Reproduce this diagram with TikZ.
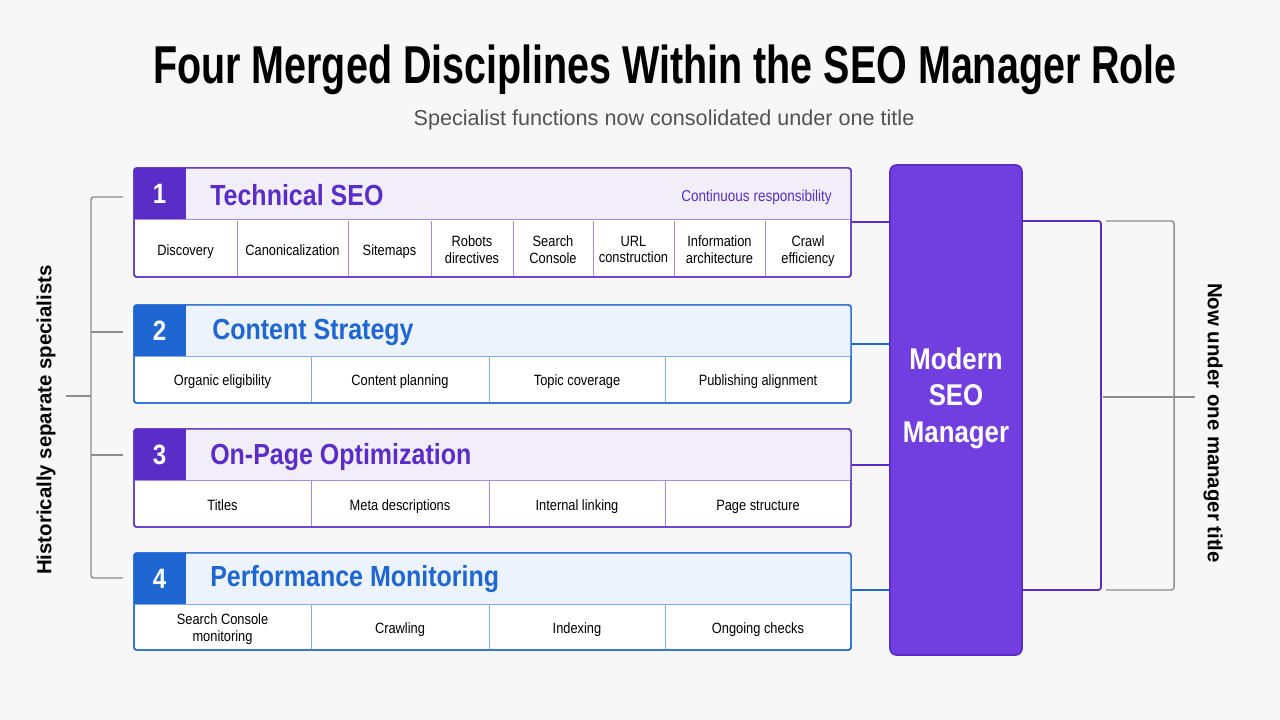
\documentclass[tikz,border=0pt]{standalone}
\usepackage{fontspec}
\setmainfont{Liberation Sans}
\newfontfamily\condfont[FakeStretch=0.86]{Liberation Sans}
\newfontfamily\titlefont[FakeStretch=0.74]{Liberation Sans}
\usepackage{xcolor}
\usepackage{tikz}
\usetikzlibrary{positioning}

\definecolor{purp}{HTML}{5B2DC8}
\definecolor{blu}{HTML}{1E66D2}
\definecolor{lav}{HTML}{F1EEFA}
\definecolor{sky}{HTML}{EDF3FC}
\definecolor{mgrfill}{HTML}{713FE0}
\definecolor{bgcol}{HTML}{F7F7F8}
\definecolor{brace}{HTML}{8E8E8E}

\begin{document}
\begin{tikzpicture}[
    x=0.75pt, y=-0.75pt,
    band/.style={draw=#1, line width=1.1pt, rounded corners=2pt, minimum width=537.75pt, inner sep=0pt},
    head/.style={fill=#1, minimum width=537.75pt, minimum height=39pt, anchor=north west, inner sep=0pt},
    badge/.style={fill=#1, text=white, font=\condfont\bfseries\fontsize{21}{24}\selectfont, minimum width=39pt, minimum height=39pt, anchor=north west, inner sep=0pt},
    htitle/.style={text=#1, font=\condfont\bfseries\fontsize{21.8}{25}\selectfont, anchor=west, inner sep=0pt},
    cell/.style={font=\condfont\fontsize{11.2}{12.2}\selectfont, align=center, inner sep=0pt, execute at begin node=\strut, execute at end node=\strut},
    split/.style={draw=#1!55, line width=0.6pt},
    link/.style={draw=#1, line width=1.3pt},
    bracket/.style={draw=brace, line width=1.1pt, rounded corners=2pt},
    side/.style={font=\bfseries\fontsize{15.3}{18}\selectfont, inner sep=0pt}
    ]

    % Fondo
    \fill[bgcol] (0,0) rectangle (1280,720);

    % Titulos
    \node[font=\titlefont\bfseries\fontsize{40}{46}\selectfont] (title) at (665,70) {Four Merged Disciplines Within the SEO Manager Role};
    \node[font=\fontsize{16.2}{19}\selectfont, text=black!68] (subtitle) at (664,120) {Specialist functions now consolidated under one title};

    % Bloque 1: Technical SEO
    \node[band=purp, fill=white, minimum height=81.75pt] (d1) at (492.5,222.5) {};
    \node[head=lav] (h1) at (d1.north west) {};
    \node[badge=purp] (n1) at (d1.north west) {1};
    \node[htitle=purp] (t1) at (210,195) {Technical SEO};
    \node[text=purp, font=\condfont\fontsize{11.8}{13}\selectfont, anchor=east, inner sep=0pt] (r1) at (832,197) {Continuous responsibility};
    \draw[split=purp] (h1.south west) -- (h1.south east);
    \foreach \x in {237,348,431,513,593,674,765} \draw[split=purp] (\x,221) -- (\x,277);
    \node[cell] (c11) at (185.5,252) {Discovery};
    \node[cell] (c12) at (292.5,252) {Canonicalization};
    \node[cell] (c13) at (389.5,252) {Sitemaps};
    \node[cell] (c14) at (472,252) {Robots\\directives};
    \node[cell] (c15) at (553,252) {Search\\Console};
    \node[cell] (c16) at (633.5,252) {URL\\construction};
    \node[cell] (c17) at (719.5,252) {Information\\architecture};
    \node[cell] (c18) at (808,252) {Crawl\\efficiency};
    \node[band=purp, minimum height=81.75pt] at (d1) {};

    % Bloque 2: Content Strategy
    \node[band=blu, fill=white, minimum height=73.5pt] (d2) at (492.5,354) {};
    \node[head=sky] (h2) at (d2.north west) {};
    \node[badge=blu] (n2) at (d2.north west) {2};
    \node[htitle=blu] (t2) at (212,332) {Content Strategy};
    \draw[split=blu] (h2.south west) -- (h2.south east);
    \foreach \x in {311,489,665} \draw[split=blu] (\x,357) -- (\x,403);
    \node[cell] (c21) at (222.5,382.5) {Organic eligibility};
    \node[cell] (c22) at (400,382.5) {Content planning};
    \node[cell] (c23) at (577,382.5) {Topic coverage};
    \node[cell] (c24) at (758,382.5) {Publishing alignment};
    \node[band=blu, minimum height=73.5pt] at (d2) {};

    % Bloque 3: On-Page Optimization
    \node[band=purp, fill=white, minimum height=73.5pt] (d3) at (492.5,478) {};
    \node[head=lav] (h3) at (d3.north west) {};
    \node[badge=purp] (n3) at (d3.north west) {3};
    \node[htitle=purp] (t3) at (210,457) {On-Page Optimization};
    \draw[split=purp] (h3.south west) -- (h3.south east);
    \foreach \x in {311,489,665} \draw[split=purp] (\x,481) -- (\x,527);
    \node[cell] (c31) at (222.5,507) {Titles};
    \node[cell] (c32) at (400,507) {Meta descriptions};
    \node[cell] (c33) at (577,507) {Internal linking};
    \node[cell] (c34) at (758,507) {Page structure};
    \node[band=purp, minimum height=73.5pt] at (d3) {};

    % Bloque 4: Performance Monitoring
    \node[band=blu, fill=white, minimum height=72.75pt] (d4) at (492.5,601.5) {};
    \node[head=sky] (h4) at (d4.north west) {};
    \node[badge=blu] (n4) at (d4.north west) {4};
    \node[htitle=blu] (t4) at (210,579) {Performance Monitoring};
    \draw[split=blu] (h4.south west) -- (h4.south east);
    \foreach \x in {311,489,665} \draw[split=blu] (\x,605) -- (\x,650);
    \node[cell] (c41) at (222.5,630) {Search Console\\monitoring};
    \node[cell] (c42) at (400,630) {Crawling};
    \node[cell] (c43) at (577,630) {Indexing};
    \node[cell] (c44) at (758,630) {Ongoing checks};
    \node[band=blu, minimum height=72.75pt] at (d4) {};

    % Gerente
    \node[draw=purp, fill=mgrfill, line width=1.3pt, rounded corners=5pt, minimum width=99pt, minimum height=367.5pt] (mgr) at (956,410) {};
    \node[text=white, font=\condfont\bfseries\fontsize{22.5}{27.5}\selectfont, align=center] (mgrtxt) at (956,398) {Modern\\SEO\\Manager};

    % Conexiones hacia el gerente
    \draw[link=purp] (d1.east |- 0,222) -- (mgr.west |- 0,222);
    \draw[link=blu] (d2.east |- 0,344) -- (mgr.west |- 0,344);
    \draw[link=purp] (d3.east |- 0,465) -- (mgr.west |- 0,465);
    \draw[link=blu] (d4.east |- 0,590) -- (mgr.west |- 0,590);

    % Llave derecha
    \draw[link=purp, rounded corners=2pt] (mgr.east |- 0,221) -- (1101,221) -- (1101,590) -- (mgr.east |- 0,590);
    \coordinate (rmid) at (1103,397);
    \coordinate (rend) at (1195,397);
    \draw[bracket] (1106,221) -- (1174,221) -- (1174,590) -- (1106,590);
    \draw[bracket] (rmid) -- (rend);
    \node[side, rotate=-90] (now) at (1213,423) {Now under one manager title};

    % Llave izquierda
    \draw[bracket] (123,197) -- (91,197) -- (91,578) -- (123,578);
    \draw[bracket] (91,332) -- (123,332);
    \draw[bracket] (91,455) -- (123,455);
    \coordinate (lmid) at (66,396);
    \draw[bracket] (lmid) -- (91,396);
    \node[side, rotate=90] (hist) at (46,420) {Historically separate specialists};

\end{tikzpicture}
\end{document}
